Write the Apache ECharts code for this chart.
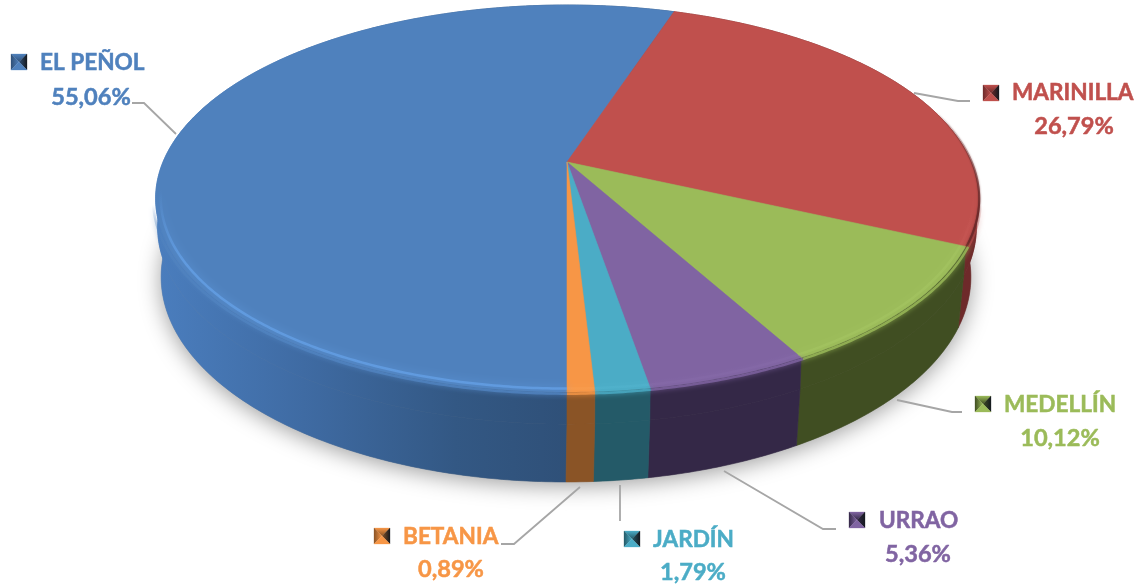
<!DOCTYPE html>
<html>
<head>
<meta charset="utf-8">
<style>html,body{margin:0;padding:0;background:#fff}#c{width:1141px;height:586px}</style>
<script src="https://cdn.jsdelivr.net/npm/echarts@6/dist/echarts.min.js"></script>
</head>
<body>
<div id="c"></div>
<script>
// --- data ---
var categories = ['EL PEÑOL', 'MARINILLA', 'MEDELLÍN', 'URRAO', 'JARDÍN', 'BETANIA'];
var shares = [55.06, 26.79, 10.12, 5.36, 1.79, 0.89];
// --- style ---
var topColors = ['#4f81bd', '#c0504d', '#9bbb59', '#8064a2', '#4bacc6', '#f79646'];
var wallColors = ['#2f5078', '#6e2a2a', '#404e22', '#342847', '#245a68', '#8a5426'];
var glowColors = ['#66a3ea', '#d96a66', '#b0d16c', '#9378b8', '#62c4de', '#ffb066'];
var glowStrength = [0.7, 0.2, 0.25, 0.15, 0.15, 0.15];
// --- label layout: name-left, name-y, value-centre-x, value-y, key-left, key-top, leader polyline ---
var nameLeft = [40, 1012, 1004, 879, 653, 403];
var nameY = [63, 93, 405, 521, 540, 537];
var valueX = [91, 1074, 1060, 918, 693, 451];
var valueY = [97, 126, 438, 554, 572, 569];
var keyLeft = [11, 983, 975, 849, 624, 374];
var keyTop = [54, 85, 396, 512, 531, 528];
var leaders = [
  [[132,103],[144,103],[176,134]],
  [[914,93],[958,101],[970,101]],
  [[897,400],[952,412],[962,412]],
  [[724,471],[823,529],[836,529]],
  [[620,485],[620,521]],
  [[580,487],[514,544],[501,544]]
];
// --- projection of the disc (perspective circle) ---
var TOP = {cx: 567, cy: 162, r: 404, s: 186.6, k: -0.1886};
var MID = {cx: 567, cy: 190, r: 402, s: 190, k: -0.1886};
var BOT = {cx: 566, cy: 238.3, r: 397.6, s: 197.7, k: -0.1886};

var total = shares.reduce(function (a, b) { return a + b; }, 0);
function startAngle(i) {
  var c = 0;
  for (var j = 0; j < i; j++) c += shares[j];
  return c / total * Math.PI * 2;
}
function project(p, a, q) {
  q = q || 1;
  var u = -Math.sin(a) * q, v = Math.cos(a) * q, d = 1 + p.k * v;
  return [p.cx + p.r * u / d, p.cy + p.s * v / d];
}
function arc(p, a0, a1, q) {
  var n = Math.max(2, Math.ceil((a1 - a0) / 0.01)), pts = [];
  for (var i = 0; i <= n; i++) pts.push(project(p, a0 + (a1 - a0) * i / n, q));
  return pts;
}
function sliceRange(v, i) {
  var a0 = startAngle(i);
  return [a0, a0 + v / total * Math.PI * 2];
}
function globalGrad(x0, y0, x1, y1, stops) {
  return new echarts.graphic.LinearGradient(x0, y0, x1, y1, stops, true);
}
function clear(c) { return echarts.color.modifyAlpha(c, 0); }
var seriesData = shares.map(function (v, i) { return [v, i]; });

function renderShadow(params, api) {
  if (api.value(1) !== 0) return {type: 'group', children: []};
  return {
    type: 'polygon', silent: true,
    shape: {points: arc(BOT, 0, Math.PI * 2)},
    style: {fill: '#8a8a8a', shadowBlur: 22, shadowColor: 'rgba(0,0,0,0.38)', shadowOffsetY: 4}
  };
}
function renderWall(params, api) {
  var i = api.value(1), r = sliceRange(api.value(0), i);
  var fill = wallColors[i];
  if (i === 0) {
    fill = globalGrad(160, 0, 570, 0, [
      {offset: 0, color: '#4a7dbd'},
      {offset: 0.35, color: '#3f6ba3'},
      {offset: 0.72, color: '#335884'},
      {offset: 1, color: wallColors[0]}
    ]);
  }
  function band(a, b) {
    return {
      type: 'polygon', silent: true,
      shape: {points: arc(a, r[0], r[1]).concat(arc(b, r[0], r[1]).reverse())},
      style: {fill: fill, stroke: fill, lineWidth: 0.6}
    };
  }
  return {type: 'group', children: [band(MID, BOT), band(TOP, MID)]};
}
function renderTop(params, api) {
  var i = api.value(1), r = sliceRange(api.value(0), i);
  var pts = [[TOP.cx, TOP.cy]].concat(arc(TOP, r[0], r[1]));
  return {
    type: 'polygon', silent: true,
    shape: {points: pts},
    style: {fill: topColors[i], stroke: topColors[i], lineWidth: 0.6}
  };
}
function renderRim(params, api) {
  var i = api.value(1), r = sliceRange(api.value(0), i);
  var kids = [];
  // soft melt of the top face into the wall
  kids.push({
    type: 'polyline', silent: true,
    shape: {points: arc(TOP, r[0], r[1], 1.006)},
    style: {fill: 'none', stroke: globalGrad(0, 205, 0, 300, [
      {offset: 0, color: clear(topColors[i])},
      {offset: 0.45, color: topColors[i]},
      {offset: 1, color: topColors[i]}
    ]), lineWidth: 2.5, shadowBlur: 5, shadowColor: topColors[i], opacity: 0.8}
  });
  // pale ridge just inside the rim
  kids.push({
    type: 'polyline', silent: true,
    shape: {points: arc(TOP, r[0], r[1], 0.988)},
    style: {fill: 'none', stroke: globalGrad(0, 190, 0, 330, [
      {offset: 0, color: clear(glowColors[i])},
      {offset: 0.5, color: glowColors[i]},
      {offset: 1, color: glowColors[i]}
    ]), lineWidth: 2.5, shadowBlur: 8, shadowColor: glowColors[i], opacity: glowStrength[i]}
  });
  // dark edge on the far right of the rim
  if (i === 1) {
    kids.push({
      type: 'polyline', silent: true,
      shape: {points: arc(TOP, r[0] + 0.75, r[1], 1.002)},
      style: {fill: 'none', stroke: globalGrad(0, 110, 0, 215, [
        {offset: 0, color: clear(wallColors[1])},
        {offset: 1, color: wallColors[1]}
      ]), lineWidth: 2, shadowBlur: 2, shadowColor: wallColors[1]}
    });
  }
  return {type: 'group', children: kids};
}
function keyTriangle(x0, y0, x1, y1, x2, y2, c) {
  return {
    type: 'polygon', silent: true,
    shape: {points: [[x0, y0], [x1, y1], [x2, y2]]},
    style: {fill: c, stroke: c, lineWidth: 0.3}
  };
}
function renderLabels(params, api) {
  var i = api.value(1), c = topColors[i], d = wallColors[i];
  var x = keyLeft[i], y = keyTop[i], w = 16, m = w / 2;
  var nameFont = 'bold 22.6px Lato, Carlito, sans-serif';
  var valueFont = 'bold 23.6px Lato, Carlito, sans-serif';
  var valueText = api.value(0).toFixed(2).replace('.', ',') + '%';
  return {
    type: 'group',
    children: [
      {type: 'polyline', silent: true, shape: {points: leaders[i]},
        style: {fill: 'none', stroke: '#a6a6a6', lineWidth: 1.8}},
      keyTriangle(x, y, x + w, y, x + m, y + m, globalGrad(0, y, 0, y + m, [{offset: 0, color: c}, {offset: 1, color: d}])),
      keyTriangle(x, y, x + m, y + m, x, y + w, globalGrad(x, 0, x + m, 0, [{offset: 0, color: d}, {offset: 1, color: c}])),
      keyTriangle(x + w, y, x + m, y + m, x + w, y + w, globalGrad(x + m, 0, x + w, 0, [{offset: 0, color: d}, {offset: 1, color: '#15191f'}])),
      keyTriangle(x, y + w, x + m, y + m, x + w, y + w, c),
      {type: 'text', silent: true,
        style: {text: categories[i], x: nameLeft[i], y: nameY[i], fill: c, stroke: c, lineWidth: 0.5, font: nameFont, textAlign: 'left', textVerticalAlign: 'middle'}},
      {type: 'text', silent: true,
        style: {text: valueText, x: valueX[i], y: valueY[i], fill: c, stroke: c, lineWidth: 0.5, font: valueFont, textAlign: 'center', textVerticalAlign: 'middle'}}
    ]
  };
}
function layer(name, z, fn) {
  return {type: 'custom', name: name, coordinateSystem: 'none', z: z, data: seriesData, renderItem: fn, animation: false, silent: true};
}
var chart = echarts.init(document.getElementById('c'));
chart.setOption({
  backgroundColor: '#ffffff',
  animation: false,
  series: [
    layer('shadow', 1, renderShadow),
    layer('wall', 2, renderWall),
    layer('top', 3, renderTop),
    layer('rim', 4, renderRim),
    layer('labels', 5, renderLabels)
  ]
});
</script>
</body>
</html>
